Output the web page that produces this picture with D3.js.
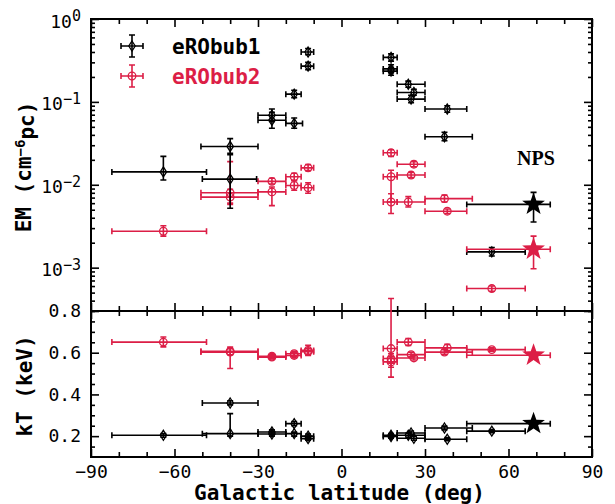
<!DOCTYPE html>
<html>
<head>
<meta charset="utf-8">
<script src="https://cdn.jsdelivr.net/npm/d3@7"></script>
<style>
  body { margin: 0; background: #fff; }
  .tick text { font-family: "DejaVu Sans Mono", monospace; font-size: 18px; fill: #000; }
  .lbl { font-family: "DejaVu Sans Mono", monospace; font-weight: bold; font-size: 21px; }
</style>
</head>
<body>
<div id="chart"></div>
<script>
// [lat, latLo, latHi, value, valueLo, valueHi]
const bub1EM = [
  [-64, -82.5, -48.5, 0.0143, 0.0114, 0.022],
  [-40, -50.5, -30, 0.029, 0.023, 0.036],
  [-40, -50, -30.5, 0.0117, 0.0052, 0.024],
  [-25, -30, -20, 0.069, 0.058, 0.082],
  [-25, -30, -20, 0.060, 0.048, 0.075],
  [-17, -20, -14.5, 0.124, 0.112, 0.138],
  [-17, -20, -14, 0.055, 0.048, 0.064],
  [-12, -14.5, -10, 0.40, 0.37, 0.44],
  [-12, -14.5, -10, 0.27, 0.245, 0.30],
  [17.8, 15, 20, 0.344, 0.31, 0.38],
  [17.8, 15, 20, 0.25, 0.225, 0.28],
  [17.8, 15, 20, 0.235, 0.21, 0.26],
  [24, 20, 30, 0.163, 0.15, 0.178],
  [26, 20, 30, 0.13, 0.12, 0.142],
  [25, 20, 30, 0.108, 0.098, 0.12],
  [38, 30, 45, 0.082, 0.075, 0.09],
  [37, 30, 47, 0.038, 0.034, 0.043],
  [54, 45, 66, 0.00155, 0.00138, 0.00175]
];
const bub2EM = [
  [-64, -82.5, -48.5, 0.00275, 0.0024, 0.0032],
  [-40, -50.5, -30, 0.0080, 0.0060, 0.019],
  [-40, -50.5, -30, 0.0071, 0.0058, 0.0088],
  [-25, -30, -20, 0.011, 0.0102, 0.012],
  [-25, -30, -20, 0.0082, 0.0056, 0.0094],
  [-17, -20, -14.5, 0.0125, 0.0113, 0.0138],
  [-17, -20, -14.5, 0.0098, 0.0086, 0.0112],
  [-12, -14.5, -10, 0.016, 0.0148, 0.0175],
  [-12, -14.5, -10, 0.0092, 0.0079, 0.0106],
  [17.8, 15, 20, 0.0243, 0.022, 0.0265],
  [17.8, 15, 20, 0.0125, 0.0062, 0.0150],
  [17.8, 15, 20, 0.0062, 0.0045, 0.0078],
  [26, 20, 30, 0.0177, 0.0165, 0.019],
  [25, 20, 30, 0.0131, 0.0122, 0.0141],
  [24, 20, 30, 0.0062, 0.0054, 0.0072],
  [37, 30, 47, 0.0068, 0.0062, 0.0075],
  [38, 30, 45, 0.0048, 0.0045, 0.0051],
  [54, 45, 66, 0.00056, 0.00052, 0.0006]
];
const bub1KT = [
  [-64, -82.5, -48.5, 0.204, 0.195, 0.213],
  [-40, -50, -30, 0.359, 0.35, 0.37],
  [-40, -50, -30, 0.212, 0.20, 0.308],
  [-25, -30, -20, 0.22, 0.21, 0.23],
  [-25, -30, -20, 0.21, 0.20, 0.22],
  [-17, -20, -14.5, 0.26, 0.25, 0.27],
  [-17, -20, -14.5, 0.212, 0.20, 0.22],
  [-12, -14.5, -10, 0.188, 0.18, 0.196],
  [-12, -14.5, -10, 0.20, 0.19, 0.21],
  [17.8, 15, 20, 0.204, 0.195, 0.213],
  [17.8, 15, 20, 0.198, 0.19, 0.207],
  [24, 20, 30, 0.204, 0.195, 0.215],
  [26, 20, 30, 0.19, 0.18, 0.20],
  [25, 20, 30, 0.215, 0.205, 0.225],
  [38, 30, 45, 0.185, 0.178, 0.193],
  [37, 30, 47, 0.239, 0.23, 0.248],
  [54, 45, 66, 0.224, 0.216, 0.232]
];
const bub2KT = [
  [-64, -82.5, -48.5, 0.651, 0.628, 0.675],
  [-40, -50.5, -30, 0.603, 0.524, 0.627],
  [-40, -50.5, -30, 0.607, 0.59, 0.62],
  [-25, -30, -20, 0.579, 0.57, 0.588],
  [-25, -30, -20, 0.583, 0.574, 0.592],
  [-17, -20, -14.5, 0.587, 0.575, 0.60],
  [-17, -20, -14.5, 0.595, 0.583, 0.607],
  [-12, -14.5, -10, 0.611, 0.587, 0.635],
  [-12, -14.5, -10, 0.605, 0.59, 0.62],
  [17.8, 15, 20, 0.62, 0.483, 0.86],
  [17.8, 15, 20, 0.572, 0.55, 0.595],
  [17.8, 15, 20, 0.556, 0.53, 0.58],
  [24, 20, 30, 0.651, 0.635, 0.668],
  [25, 20, 30, 0.591, 0.58, 0.602],
  [26, 20, 30, 0.575, 0.565, 0.585],
  [38, 30, 45, 0.623, 0.61, 0.64],
  [37, 30, 47, 0.603, 0.592, 0.614],
  [54, 45, 66, 0.615, 0.607, 0.623]
];
// North Polar Spur (stars)
const npsEM = [[69, 45, 75, 0.0058, 0.00356, 0.0081], [69, 45, 75, 0.00167, 0.00097, 0.0024]];
const npsKT = [[69, 45, 75, 0.26, 0.25, 0.27], [69, 45, 75, 0.588, 0.575, 0.60]];

const latTicks = [-90, -60, -30, 0, 30, 60, 90];
const latMinor = d3.range(-80, 90, 10).filter(d => d % 30 !== 0);
const emTicks = [1e-3, 1e-2, 1e-1, 1];
const ktTicks = [0.2, 0.4, 0.6, 0.8];
const seriesNames = ["eRObub1", "eRObub2"];

const red = "#dc1e46";
const colors = ["#000", red];

const width = 615, height = 504;
const box = { left: 91, right: 592, top: 19, mid: 311, bottom: 457 };

const svg = d3.select("#chart").append("svg")
  .attr("width", width).attr("height", height);

const x = d3.scaleLinear().domain([-90, 90]).range([box.left, box.right]);
const yEM = d3.scaleLog().domain([3e-4, 1]).range([box.mid, box.top]);
const yKT = d3.scaleLinear().domain([0.1, 0.8]).range([box.bottom, box.mid]);

const emMinor = [];
[-4, -3, -2, -1].forEach(e => d3.range(2, 10).forEach(k => {
  const v = k * Math.pow(10, e);
  if (v >= 3e-4) emMinor.push(v);
}));
const ktMinor = d3.range(0.15, 0.8, 0.05).filter(v => Math.abs(v * 5 - Math.round(v * 5)) > 1e-6);

// axis helper: inward ticks
function addAxis(axisFn, scale, tx, ty, values, size, labels, pad = 10) {
  const g = svg.append("g").attr("transform", `translate(${tx},${ty})`)
    .call(axisFn(scale).tickValues(values).tickSize(-size).tickPadding(pad)
      .tickFormat(labels || (() => "")));
  g.select(".domain").remove();
  g.selectAll(".tick line").attr("stroke", "#000").attr("stroke-width", 1.6);
  return g;
}

// x axes
[[d3.axisTop, box.top], [d3.axisBottom, box.mid], [d3.axisTop, box.mid]].forEach(([fn, y]) => {
  addAxis(fn, x, 0, y, latTicks, 8);
  addAxis(fn, x, 0, y, latMinor, 5);
});
addAxis(d3.axisBottom, x, 0, box.bottom, latTicks, 8, d => d < 0 ? "\u2212" + Math.abs(d) : d, 8);
addAxis(d3.axisBottom, x, 0, box.bottom, latMinor, 5);

// EM axes (log)
const emAx = addAxis(d3.axisLeft, yEM, box.left, 0, emTicks, 8, d => d);
emAx.selectAll(".tick text").each(function(d) {
  const e = Math.round(Math.log10(d));
  const t = d3.select(this).text("").attr("dy", "0.45em");
  t.append("tspan").text("10");
  t.append("tspan").attr("dy", "-0.45em").attr("font-size", "15px").text(e === 0 ? "0" : "\u2212" + Math.abs(e));
});
addAxis(d3.axisLeft, yEM, box.left, 0, emMinor, 4);
addAxis(d3.axisRight, yEM, box.right, 0, emTicks, 8);
addAxis(d3.axisRight, yEM, box.right, 0, emMinor, 4);

// kT axes
addAxis(d3.axisLeft, yKT, box.left, 0, ktTicks, 8, d3.format(".1f"));
addAxis(d3.axisLeft, yKT, box.left, 0, ktMinor, 4);
addAxis(d3.axisRight, yKT, box.right, 0, ktTicks, 8);
addAxis(d3.axisRight, yKT, box.right, 0, ktMinor, 4);

// frames
svg.append("rect").attr("x", box.left).attr("y", box.top).attr("width", box.right - box.left).attr("height", box.mid - box.top)
  .attr("fill", "none").attr("stroke", "#000").attr("stroke-width", 2);
svg.append("rect").attr("x", box.left).attr("y", box.mid).attr("width", box.right - box.left).attr("height", box.bottom - box.mid)
  .attr("fill", "none").attr("stroke", "#000").attr("stroke-width", 2);

// error bars
function errorBars(g, data, ys, color) {
  const cap = 3;
  data.forEach(d => {
    const cy = ys(d[3]);
    const x0 = x(d[1]), x1 = x(d[2]), cx = x(d[0]);
    const y0 = ys(d[4]), y1 = ys(d[5]);
    const path = `M${x0},${cy}H${x1}M${x0},${cy - cap}V${cy + cap}M${x1},${cy - cap}V${cy + cap}` +
      `M${cx},${y0}V${y1}M${cx - cap},${y0}H${cx + cap}M${cx - cap},${y1}H${cx + cap}`;
    g.append("path").attr("d", path).attr("fill", "none").attr("stroke", color).attr("stroke-width", 1.6);
  });
}
function markers(g, data, ys, idx) {
  data.forEach(d => {
    const cx = x(d[0]), cy = ys(d[3]);
    if (idx === 0) {
      g.append("path").attr("d", `M${cx},${cy - 5}L${cx + 3.2},${cy}L${cx},${cy + 5}L${cx - 3.2},${cy}Z`)
        .attr("fill", "none").attr("stroke", "#000").attr("stroke-width", 1.3);
    } else {
      g.append("circle").attr("cx", cx).attr("cy", cy).attr("r", 3.8)
        .attr("fill", "none").attr("stroke", red).attr("stroke-width", 1.3);
    }
  });
}
function starPath(cx, cy, R, r) {
  const pts = d3.range(10).map(i => {
    const a = -Math.PI / 2 + i * Math.PI / 5;
    const rr = i % 2 === 0 ? R : r;
    return [cx + rr * Math.cos(a), cy + rr * Math.sin(a)];
  });
  return "M" + pts.join("L") + "Z";
}

const plot = svg.append("g");
[[bub1EM, bub2EM, yEM, npsEM], [bub1KT, bub2KT, yKT, npsKT]].forEach(([b1, b2, ys, nps]) => {
  errorBars(plot, b2, ys, red);
  markers(plot, b2, ys, 1);
  errorBars(plot, b1, ys, "#000");
  markers(plot, b1, ys, 0);
  nps.forEach((d, i) => {
    errorBars(plot, [d], ys, colors[i]);
    plot.append("path").attr("d", starPath(x(d[0]), ys(d[3]), 12, 4.8)).attr("fill", colors[i]);
  });
});

// legend
seriesNames.forEach((name, i) => {
  const ly = 46 + i * 30, lx = 132;
  const g = svg.append("g");
  const cap = 3;
  g.append("path")
    .attr("d", `M${lx - 11},${ly}H${lx + 11}M${lx - 11},${ly - cap}V${ly + cap}M${lx + 11},${ly - cap}V${ly + cap}` +
      `M${lx},${ly - 11}V${ly + 11}M${lx - cap},${ly - 11}H${lx + cap}M${lx - cap},${ly + 11}H${lx + cap}`)
    .attr("fill", "none").attr("stroke", colors[i]).attr("stroke-width", 1.6);
  if (i === 0) {
    g.append("path").attr("d", `M${lx},${ly - 5}L${lx + 3.2},${ly}L${lx},${ly + 5}L${lx - 3.2},${ly}Z`)
      .attr("fill", "none").attr("stroke", "#000").attr("stroke-width", 1.3);
  } else {
    g.append("circle").attr("cx", lx).attr("cy", ly).attr("r", 3.8)
      .attr("fill", "none").attr("stroke", red).attr("stroke-width", 1.3);
  }
  g.append("text").attr("class", "lbl").attr("x", 172).attr("y", ly + 8)
    .attr("fill", colors[i]).text(name);
});

svg.append("text").attr("x", 517).attr("y", 165)
  .attr("font-family", "'Liberation Serif', serif").attr("font-weight", "bold").attr("font-size", 20)
  .text("NPS");

// axis labels
svg.append("text").attr("class", "lbl").attr("x", (box.left + box.right) / 2 - 2).attr("y", 500)
  .attr("text-anchor", "middle").text("Galactic latitude (deg)");
const emLab = svg.append("text").attr("class", "lbl")
  .attr("transform", `translate(31,167) rotate(-90)`).attr("text-anchor", "middle");
emLab.append("tspan").text("EM (cm");
emLab.append("tspan").attr("dy", "-0.45em").attr("font-size", "14px").text("\u22126");
emLab.append("tspan").attr("dy", "0.45em").text("pc)");
svg.append("text").attr("class", "lbl")
  .attr("transform", `translate(32,386) rotate(-90)`).attr("text-anchor", "middle")
  .text("kT (keV)");
</script>
</body>
</html>
